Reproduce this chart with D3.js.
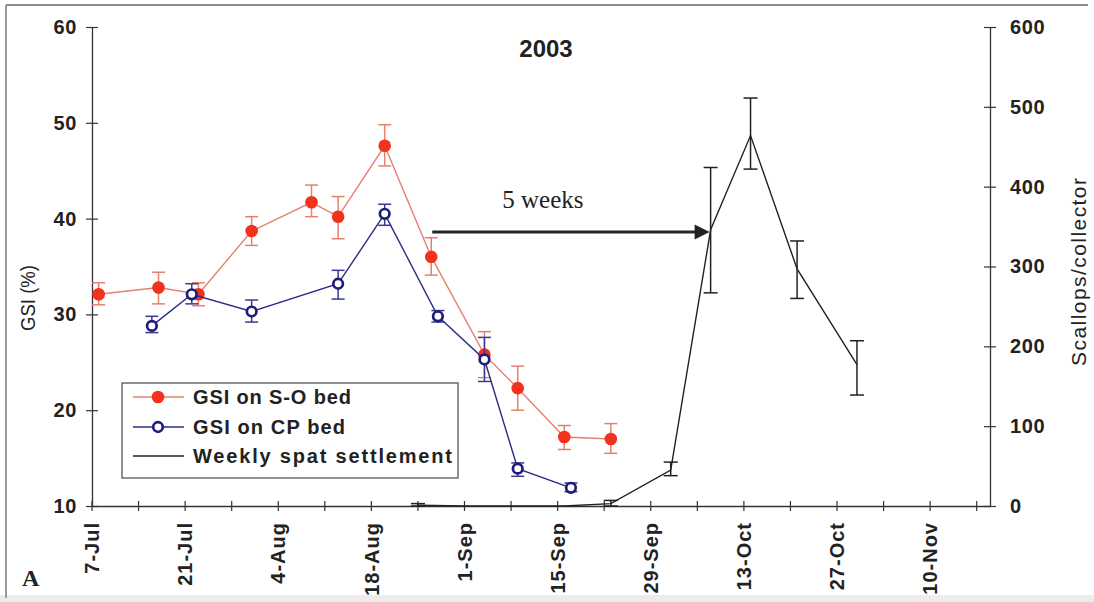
<!DOCTYPE html>
<html>
<head>
<meta charset="utf-8">
<script src="https://cdn.jsdelivr.net/npm/d3@7"></script>
<style>
  html, body { margin: 0; padding: 0; background: #fff; }
  svg { display: block; }
  text { font-family: "Liberation Sans", Arial, sans-serif; fill: #222; }
</style>
</head>
<body>
<svg id="chart" width="1094" height="602"></svg>
<script>
// ---------- data ----------
const soDates  = ["2003-07-08","2003-07-17","2003-07-23","2003-07-31","2003-08-09","2003-08-13","2003-08-20","2003-08-27","2003-09-04","2003-09-09","2003-09-16","2003-09-23"];
const soGSI    = [32.1, 32.8, 32.1, 38.7, 41.7, 40.2, 47.6, 36.0, 25.8, 22.3, 17.2, 17.0];
const soLow    = [31.0, 31.1, 30.9, 37.2, 40.2, 37.9, 45.5, 34.1, 23.4, 20.0, 15.9, 15.5];
const soHigh   = [33.3, 34.4, 33.3, 40.2, 43.5, 42.3, 49.8, 38.0, 28.2, 24.6, 18.4, 18.6];

const cpDates  = ["2003-07-16","2003-07-22","2003-07-31","2003-08-13","2003-08-20","2003-08-28","2003-09-04","2003-09-09","2003-09-17"];
const cpGSI    = [28.8, 32.1, 30.3, 33.2, 40.5, 29.8, 25.3, 13.9, 11.9];
const cpLow    = [28.1, 31.1, 29.2, 31.6, 39.3, 29.2, 23.0, 13.1, 11.5];
const cpHigh   = [29.8, 33.2, 31.5, 34.6, 41.5, 30.4, 27.6, 14.5, 12.4];

const spatDates = ["2003-08-25","2003-09-01","2003-09-09","2003-09-16","2003-09-23","2003-10-02","2003-10-08","2003-10-14","2003-10-21","2003-10-30"];
const spatVal   = [1, 0, 0, 0, 3, 45, 346, 464, 297, 177];
const spatLow   = [0, 0, 0, 0, 0, 38, 267, 422, 260, 139];
const spatHigh  = [3, 0, 0, 0, 7, 55, 424, 511, 332, 207];

const xDomain      = ["2003-07-07","2003-11-19"];
const xLabelDates  = ["2003-07-07","2003-07-21","2003-08-04","2003-08-18","2003-09-01","2003-09-15","2003-09-29","2003-10-13","2003-10-27","2003-11-10"];
const xMinorDates  = ["2003-07-14","2003-07-28","2003-08-11","2003-08-25","2003-09-08","2003-09-22","2003-10-06","2003-10-20","2003-11-03","2003-11-17"];
const gsiTicks     = [10, 20, 30, 40, 50, 60];
const spatTicks    = [0, 100, 200, 300, 400, 500, 600];

const titleText   = "2003";
const leftTitle   = "GSI (%)";
const rightTitle  = "Scallops/collector";
const legendNames = ["GSI on S-O bed", "GSI on CP bed", "Weekly spat settlement"];
const arrowFrom   = "2003-08-27", arrowTo = "2003-10-08", arrowLevel = 38.6;
const arrowLabel  = "5 weeks";
const panelLabel  = "A";

// ---------- setup ----------
const parse = d3.timeParse("%Y-%m-%d");
const fmt = d3.timeFormat("%-d-%b");
const svg = d3.select("#chart");

const pLeft = 92, pRight = 990, pTop = 27, pBottom = 506;
const x = d3.scaleTime().domain(xDomain.map(parse)).range([pLeft, pRight]);
const yL = d3.scaleLinear().domain([10, 60]).range([pBottom, pTop]);
const yR = d3.scaleLinear().domain([0, 600]).range([pBottom, pTop]);

const RED = "#f2321f", RED_LINE = "#e4826e", NAVY = "#1e1e78", NAVY_LINE = "#2c2c86", BLACK = "#222";

// scan frame
svg.append("rect").attr("x", 0).attr("y", 595).attr("width", 1094).attr("height", 7).attr("fill", "#ececec");
svg.append("line").attr("x1", 6).attr("x2", 1088).attr("y1", 5).attr("y2", 5).attr("stroke", "#8a8a8a").attr("stroke-width", 2);
svg.append("line").attr("x1", 6).attr("x2", 6).attr("y1", 5).attr("y2", 598).attr("stroke", "#9a9a9a").attr("stroke-width", 2);

// ---------- axes ----------
const axisColor = "#333";
const gL = svg.append("g").attr("transform", `translate(${pLeft},0)`)
  .call(d3.axisLeft(yL).tickValues(gsiTicks).tickSize(0).tickPadding(15).tickFormat(d3.format("d")));
gL.select(".domain").attr("stroke", axisColor).attr("stroke-width", 1.3);
gL.selectAll(".tick text").attr("font-size", 20).attr("font-weight", "bold").attr("fill", "#222")
  .attr("letter-spacing", "0.6px").attr("font-family", "Liberation Sans, Arial, sans-serif");
gL.selectAll(".tick").append("line").attr("x1", -6).attr("x2", 6).attr("stroke", axisColor).attr("stroke-width", 1.2);

const gR = svg.append("g").attr("transform", `translate(${pRight},0)`)
  .call(d3.axisRight(yR).tickValues(spatTicks).tickSize(0).tickPadding(20).tickFormat(d3.format("d")));
gR.select(".domain").attr("stroke", axisColor).attr("stroke-width", 1.3);
gR.selectAll(".tick text").attr("font-size", 20).attr("font-weight", "bold").attr("fill", "#222")
  .attr("letter-spacing", "0.6px").attr("font-family", "Liberation Sans, Arial, sans-serif");
gR.selectAll(".tick").append("line").attr("x1", -6).attr("x2", 6).attr("stroke", axisColor).attr("stroke-width", 1.2);

const gB = svg.append("g").attr("transform", `translate(0,${pBottom})`)
  .call(d3.axisBottom(x).tickValues(xLabelDates.map(parse)).tickSize(0).tickFormat(""));
gB.select(".domain").attr("stroke", axisColor).attr("stroke-width", 1.3);
const allTicks = xLabelDates.concat(xMinorDates).map(parse);
gB.selectAll(".tickmark").data(allTicks).enter().append("line").attr("class", "tickmark")
  .attr("x1", d => x(d)).attr("x2", d => x(d)).attr("y1", -5).attr("y2", 5)
  .attr("stroke", axisColor).attr("stroke-width", 1.2);
gB.selectAll(".xlab").data(xLabelDates.map(parse)).enter().append("text").attr("class", "xlab")
  .attr("transform", d => `translate(${x(d)},16) rotate(-90)`)
  .attr("text-anchor", "end").attr("dy", "0.36em")
  .attr("font-size", 20).attr("font-weight", "bold").attr("letter-spacing", "1px")
  .text(d => fmt(d));

// axis titles
svg.append("text").attr("transform", `translate(27,298) rotate(-90)`).attr("text-anchor", "middle")
  .attr("dy", "0.36em").attr("font-size", 21).attr("textLength", 66).attr("lengthAdjust", "spacingAndGlyphs").text(leftTitle);
svg.append("text").attr("transform", `translate(1078,272) rotate(-90)`).attr("text-anchor", "middle")
  .attr("dy", "0.36em").attr("font-size", 21).attr("textLength", 188).attr("lengthAdjust", "spacing").text(rightTitle);

// title
svg.append("text").attr("x", 546).attr("y", 57).attr("text-anchor", "middle")
  .attr("font-size", 24).attr("font-weight", "bold").text(titleText);

// ---------- series helpers ----------
function series(dates, vals, lo, hi) {
  return dates.map((d, i) => ({ date: parse(d), v: vals[i], lo: lo[i], hi: hi[i] }));
}
const so = series(soDates, soGSI, soLow, soHigh);
const cp = series(cpDates, cpGSI, cpLow, cpHigh);
const sp = series(spatDates, spatVal, spatLow, spatHigh);

function errorBars(data, yScale, color, cap, width) {
  const g = svg.append("g").attr("stroke", color).attr("stroke-width", width).attr("fill", "none");
  data.filter(d => d.hi > d.lo).forEach(d => {
    const cx = x(d.date);
    g.append("line").attr("x1", cx).attr("x2", cx).attr("y1", yScale(d.lo)).attr("y2", yScale(d.hi));
    g.append("line").attr("x1", cx - cap / 2).attr("x2", cx + cap / 2).attr("y1", yScale(d.lo)).attr("y2", yScale(d.lo));
    g.append("line").attr("x1", cx - cap / 2).attr("x2", cx + cap / 2).attr("y1", yScale(d.hi)).attr("y2", yScale(d.hi));
  });
}

// spat settlement (right axis)
errorBars(sp, yR, BLACK, 14, 1.5);
svg.append("path").datum(sp).attr("fill", "none").attr("stroke", BLACK).attr("stroke-width", 1.4)
  .attr("d", d3.line().x(d => x(d.date)).y(d => yR(d.v)));

// S-O bed
errorBars(so, yL, RED_LINE, 13, 1.5);
svg.append("path").datum(so).attr("fill", "none").attr("stroke", RED_LINE).attr("stroke-width", 1.4)
  .attr("d", d3.line().x(d => x(d.date)).y(d => yL(d.v)));
svg.selectAll(".so").data(so).enter().append("circle").attr("class", "so")
  .attr("cx", d => x(d.date)).attr("cy", d => yL(d.v)).attr("r", 6.3).attr("fill", RED);

// CP bed
errorBars(cp, yL, "#3a3a92", 13, 1.5);
svg.append("path").datum(cp).attr("fill", "none").attr("stroke", NAVY_LINE).attr("stroke-width", 1.4)
  .attr("d", d3.line().x(d => x(d.date)).y(d => yL(d.v)));
svg.selectAll(".cp").data(cp).enter().append("circle").attr("class", "cp")
  .attr("cx", d => x(d.date)).attr("cy", d => yL(d.v)).attr("r", 4.8)
  .attr("fill", "#fff").attr("stroke", NAVY).attr("stroke-width", 2.7);

// ---------- arrow annotation ----------
const ax1 = x(parse(arrowFrom)) + 1, ax2 = x(parse(arrowTo)) - 1, ay = yL(arrowLevel);
svg.append("line").attr("x1", ax1).attr("x2", ax2 - 14).attr("y1", ay).attr("y2", ay)
  .attr("stroke", "#262626").attr("stroke-width", 3.2);
svg.append("path").attr("d", `M${ax2},${ay} L${ax2 - 15},${ay - 7.5} L${ax2 - 15},${ay + 7.5} Z`).attr("fill", "#222");
svg.append("text").attr("x", (ax1 + ax2) / 2 - 28).attr("y", ay - 24).attr("text-anchor", "middle")
  .style("font-family", "Liberation Serif, Times New Roman, serif").attr("font-size", 25).text(arrowLabel);

// ---------- legend ----------
const lg = svg.append("g");
lg.append("rect").attr("x", 122).attr("y", 383).attr("width", 336).attr("height", 95)
  .attr("fill", "#fff").attr("stroke", "#555").attr("stroke-width", 1.3);
const rowsY = [397, 427, 456];
const legendLengths = [158, 152, 259];
const legendStyles = [
  { line: RED_LINE, marker: "fill" },
  { line: NAVY_LINE, marker: "open" },
  { line: BLACK, marker: null }
];
legendNames.forEach((name, i) => {
  const yy = rowsY[i];
  lg.append("line").attr("x1", 133).attr("x2", 184).attr("y1", yy).attr("y2", yy)
    .attr("stroke", legendStyles[i].line).attr("stroke-width", 1.5);
  if (legendStyles[i].marker === "fill")
    lg.append("circle").attr("cx", 158).attr("cy", yy).attr("r", 6.3).attr("fill", RED);
  else if (legendStyles[i].marker === "open")
    lg.append("circle").attr("cx", 158).attr("cy", yy).attr("r", 4.8).attr("fill", "#fff").attr("stroke", NAVY).attr("stroke-width", 2.7);
  lg.append("text").attr("x", 193).attr("y", yy).attr("dy", "0.36em").attr("font-size", 20)
    .attr("font-weight", "bold").attr("textLength", legendLengths[i]).attr("lengthAdjust", "spacing").text(name);
});

// panel label
svg.append("text").attr("x", 22).attr("y", 586).style("font-family", "Liberation Serif, Times New Roman, serif")
  .attr("font-size", 24).attr("font-weight", "bold").text(panelLabel);
</script>
</body>
</html>
